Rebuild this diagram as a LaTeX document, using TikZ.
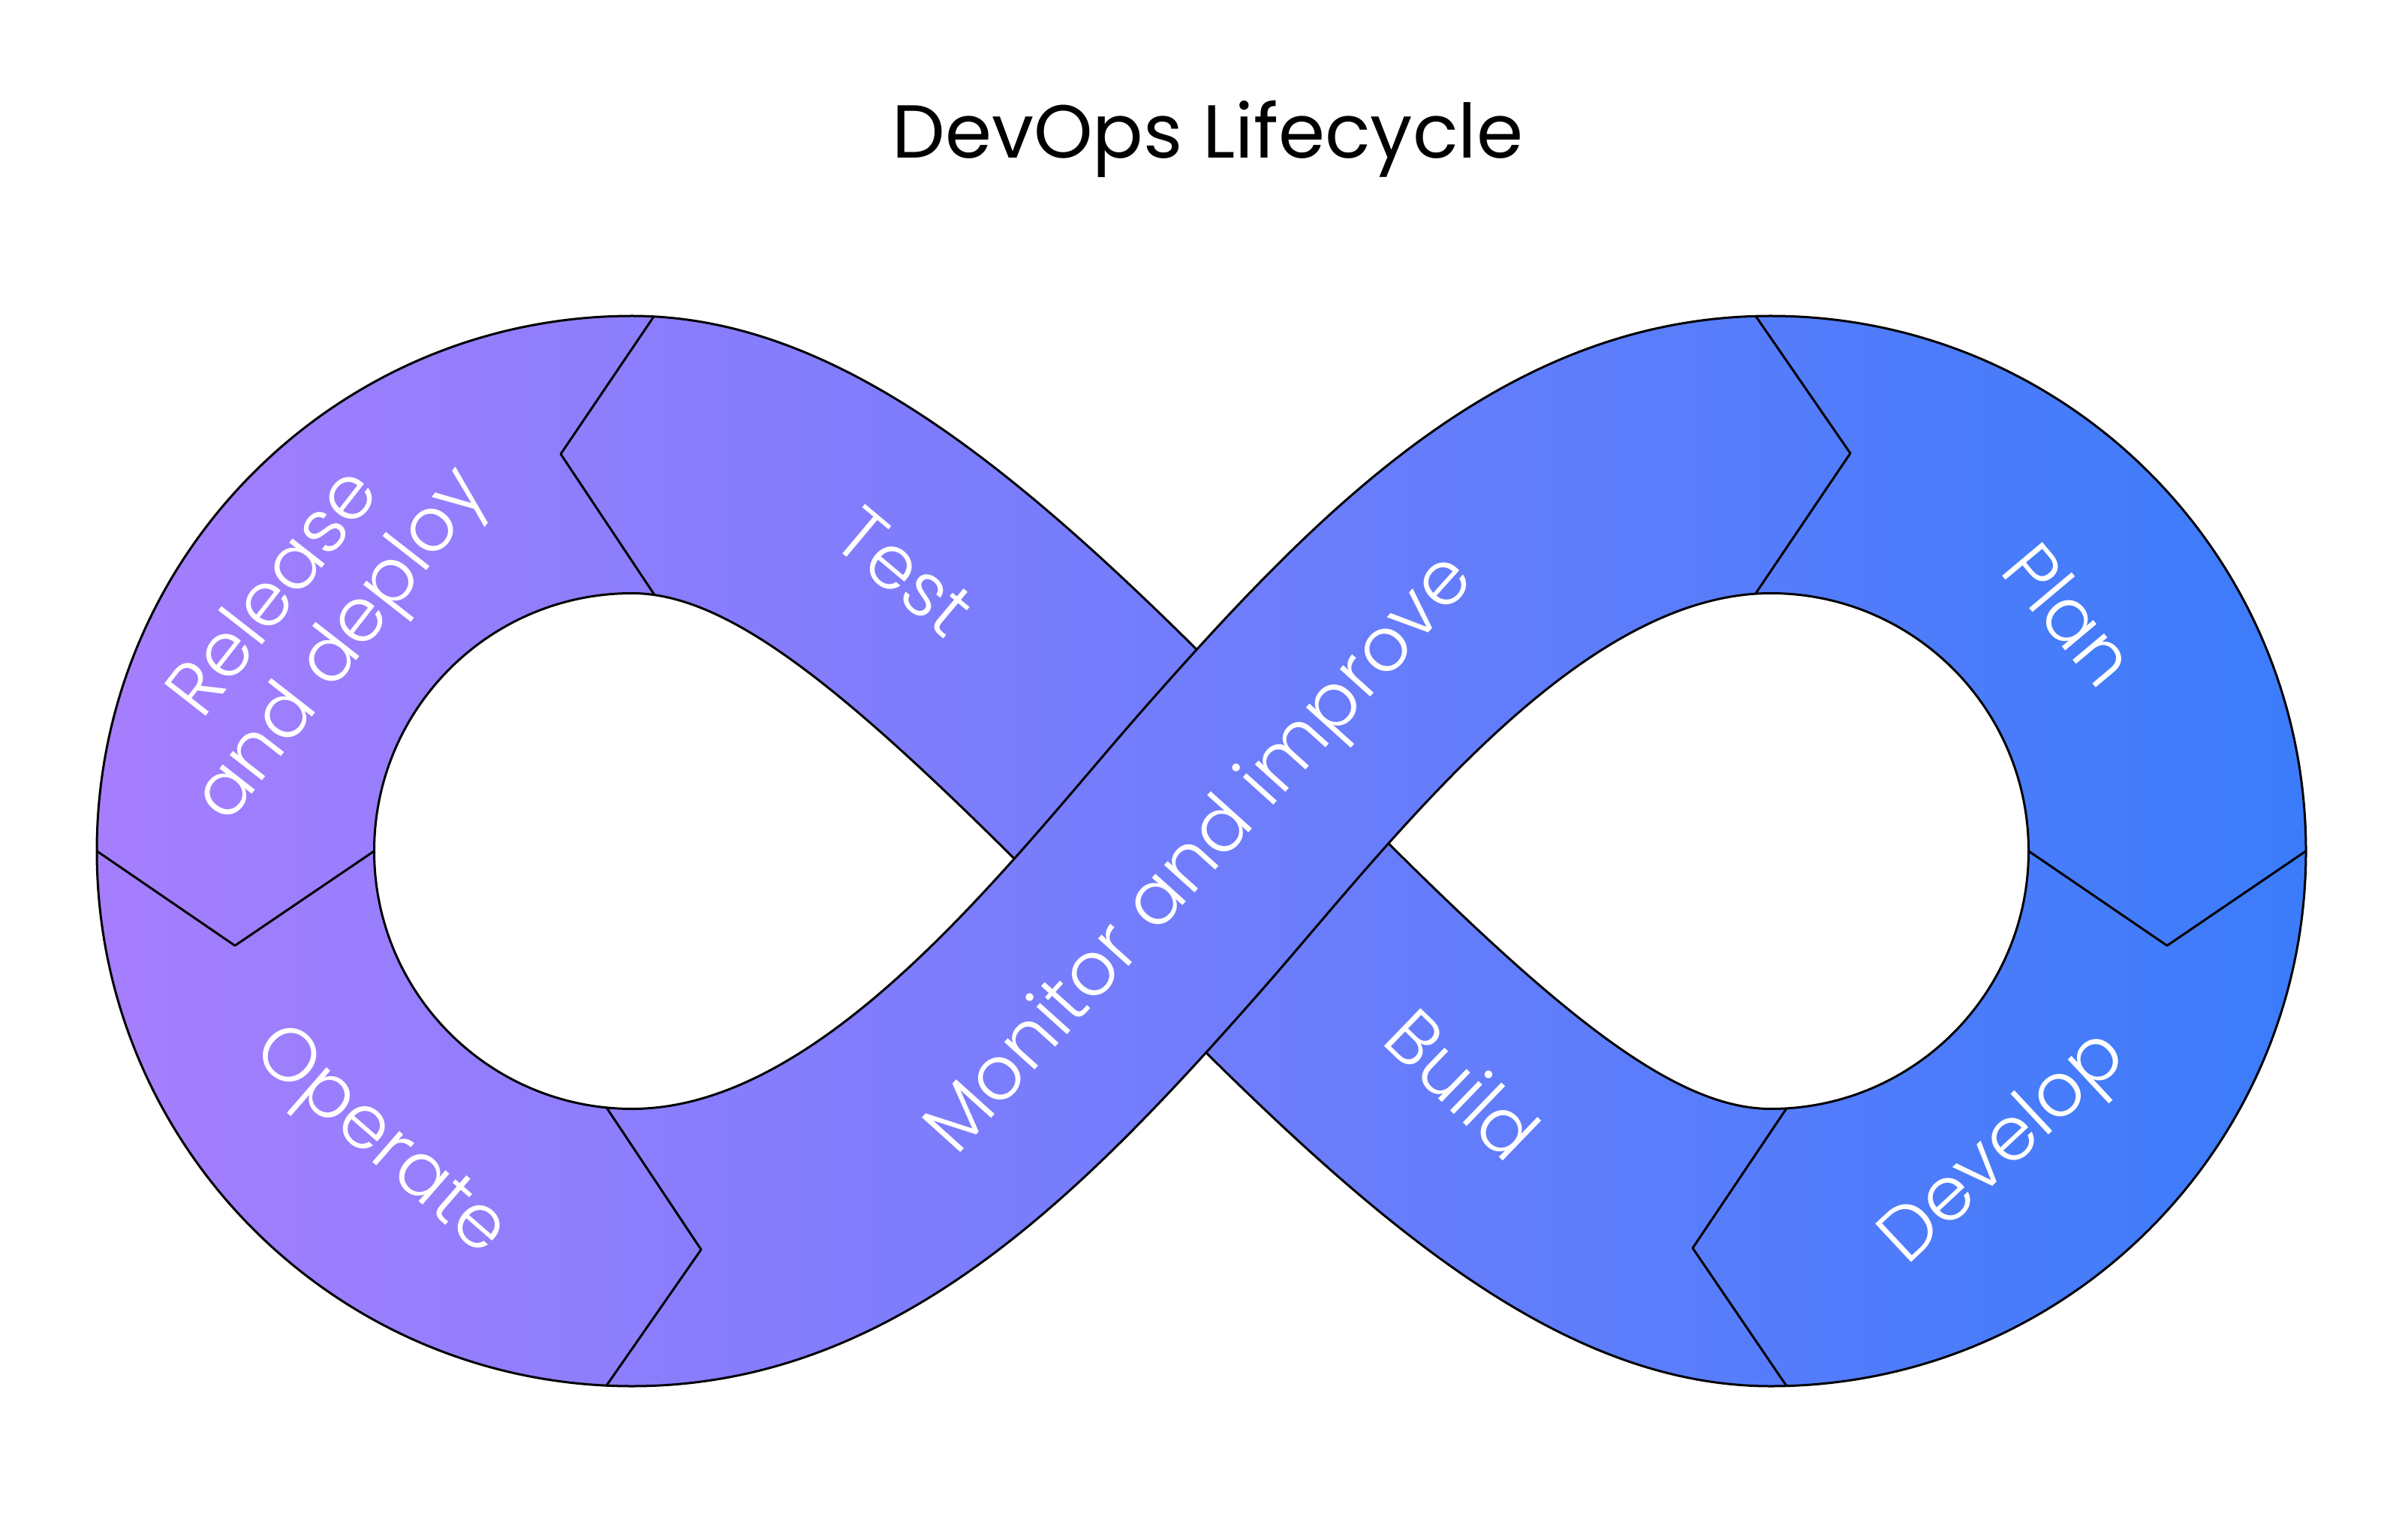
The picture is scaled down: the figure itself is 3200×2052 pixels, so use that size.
\documentclass[tikz,border=0pt]{standalone}
\usepackage{fontspec}
\setmainfont{Poppins}
\IfFontExistsTF{Poppins Light}{\newfontfamily\lblfont{Poppins Light}}{%
  \IfFontExistsTF{Poppins-Light}{\newfontfamily\lblfont{Poppins-Light}}{\newfontfamily\lblfont{Poppins}}}
\definecolor{cL}{HTML}{A67EFD}
\definecolor{cM}{HTML}{797DFE}
\definecolor{cR}{HTML}{3B7CFA}
\begin{document}
\begin{tikzpicture}[x=0.25pt,y=-0.25pt,
  edge/.style={draw=black,line width=0.75pt,line join=round},
  lbl/.style={text=white,font=\lblfont\fontsize{25}{28}\selectfont,inner sep=0pt},
  grad/.style={left color=cL,middle color=cM,right color=cR}]
\useasboundingbox (0,0) rectangle (3200,2052);
\fill[white] (0,0) rectangle (3200,2052);
% layer 1: whole figure
\begin{scope}
\clip (842,421) arc[start angle=-90,end angle=-270,radius=713] -- (842,1477.5) arc[start angle=90,end angle=270,radius=343.5] -- cycle
      (2359,421) arc[start angle=-90,end angle=90,radius=713] -- (2359,1477.5) arc[start angle=90,end angle=-90,radius=343.5] -- cycle
      (842,421) .. controls (1142,421) and (1407.4,671.8) .. (1721.5,994) .. controls (2037,1317.6) and (2215,1477.5) .. (2359,1477.5) -- (2359,1847) .. controls (2059,1847) and (1793.6,1596.2) .. (1479.5,1274) .. controls (1164,950.4) and (986,790.5) .. (842,790.5) -- cycle
      (842,1477.5) .. controls (1102,1477.5) and (1351.4,1140.3) .. (1523.3,945) .. controls (1761.3,674.6) and (2009,421) .. (2359,421) -- (2359,790.5) .. controls (2099,790.5) and (1849.6,1127.7) .. (1677.7,1323) .. controls (1439.7,1593.4) and (1192,1847) .. (842,1847) -- cycle;
\shade[grad] (129,400) rectangle (3072,1870);
\end{scope}
% ring outlines
\draw[edge] (842,421) arc[start angle=-90,end angle=-270,radius=713];
\draw[edge] (842,790.5) arc[start angle=-90,end angle=-270,radius=343.5];
\draw[edge] (2359,421) arc[start angle=-90,end angle=90,radius=713];
\draw[edge] (2359,790.5) arc[start angle=-90,end angle=90,radius=343.5];
% test / build band edges
\draw[edge] (842,421) .. controls (1142,421) and (1407.4,671.8) .. (1721.5,994) .. controls (2037,1317.6) and (2215,1477.5) .. (2359,1477.5);
\draw[edge] (842,790.5) .. controls (986,790.5) and (1164,950.4) .. (1479.5,1274) .. controls (1793.6,1596.2) and (2059,1847) .. (2359,1847);
% layer 2: monitor band on top
\begin{scope}
\clip (842,1477.5) .. controls (1102,1477.5) and (1351.4,1140.3) .. (1523.3,945) .. controls (1761.3,674.6) and (2009,421) .. (2359,421) -- (2359,790.5) .. controls (2099,790.5) and (1849.6,1127.7) .. (1677.7,1323) .. controls (1439.7,1593.4) and (1192,1847) .. (842,1847) -- cycle;
\shade[grad] (129,400) rectangle (3072,1870);
\end{scope}
\draw[edge] (842,1477.5) .. controls (1102,1477.5) and (1351.4,1140.3) .. (1523.3,945) .. controls (1761.3,674.6) and (2009,421) .. (2359,421);
\draw[edge] (842,1847) .. controls (1192,1847) and (1439.7,1593.4) .. (1677.7,1323) .. controls (1849.6,1127.7) and (2099,790.5) .. (2359,790.5);
% chevrons
\coordinate (c1a) at (871,421.8); \coordinate (c1t) at (747,605); \coordinate (c1b) at (872,792.8);
\coordinate (c2a) at (129,1134); \coordinate (c2t) at (313,1260); \coordinate (c2b) at (498.5,1134);
\coordinate (c3a) at (808,1475.8); \coordinate (c3t) at (934,1665); \coordinate (c3b) at (808,1846.2);
\coordinate (c4a) at (2339,421.2); \coordinate (c4t) at (2465,604); \coordinate (c4b) at (2339,790.6);
\coordinate (c5a) at (2702.5,1134); \coordinate (c5t) at (2887,1260); \coordinate (c5b) at (3072,1134);
\coordinate (c6a) at (2380,1476.9); \coordinate (c6t) at (2255,1663); \coordinate (c6b) at (2380,1846.7);
\draw[edge] (c1a) -- (c1t) -- (c1b);
\draw[edge] (c2a) -- (c2t) -- (c2b);
\draw[edge] (c3a) -- (c3t) -- (c3b);
\draw[edge] (c4a) -- (c4t) -- (c4b);
\draw[edge] (c5a) -- (c5t) -- (c5b);
\draw[edge] (c6a) -- (c6t) -- (c6b);
% labels
\node[font=\fontsize{25}{30}\selectfont,anchor=base,inner sep=0pt] (title) at (1609,211) {DevOps Lifecycle};
\node[lbl,rotate=52,align=center] (rel) at (414,828) {Release\\and deploy};
\node[lbl,rotate=-40] (test) at (1205,762) {Test};
\node[lbl,rotate=48] (mon) at (1602,1141) {Monitor and improve};
\node[lbl,rotate=-50] (plan) at (2758,818) {Plan};
\node[lbl,rotate=43] (dev) at (2672,1532) {Develop};
\node[lbl,rotate=-44] (build) at (1949,1444) {Build};
\node[lbl,rotate=-41] (op) at (503,1524) {Operate};
\end{tikzpicture}
\end{document}
